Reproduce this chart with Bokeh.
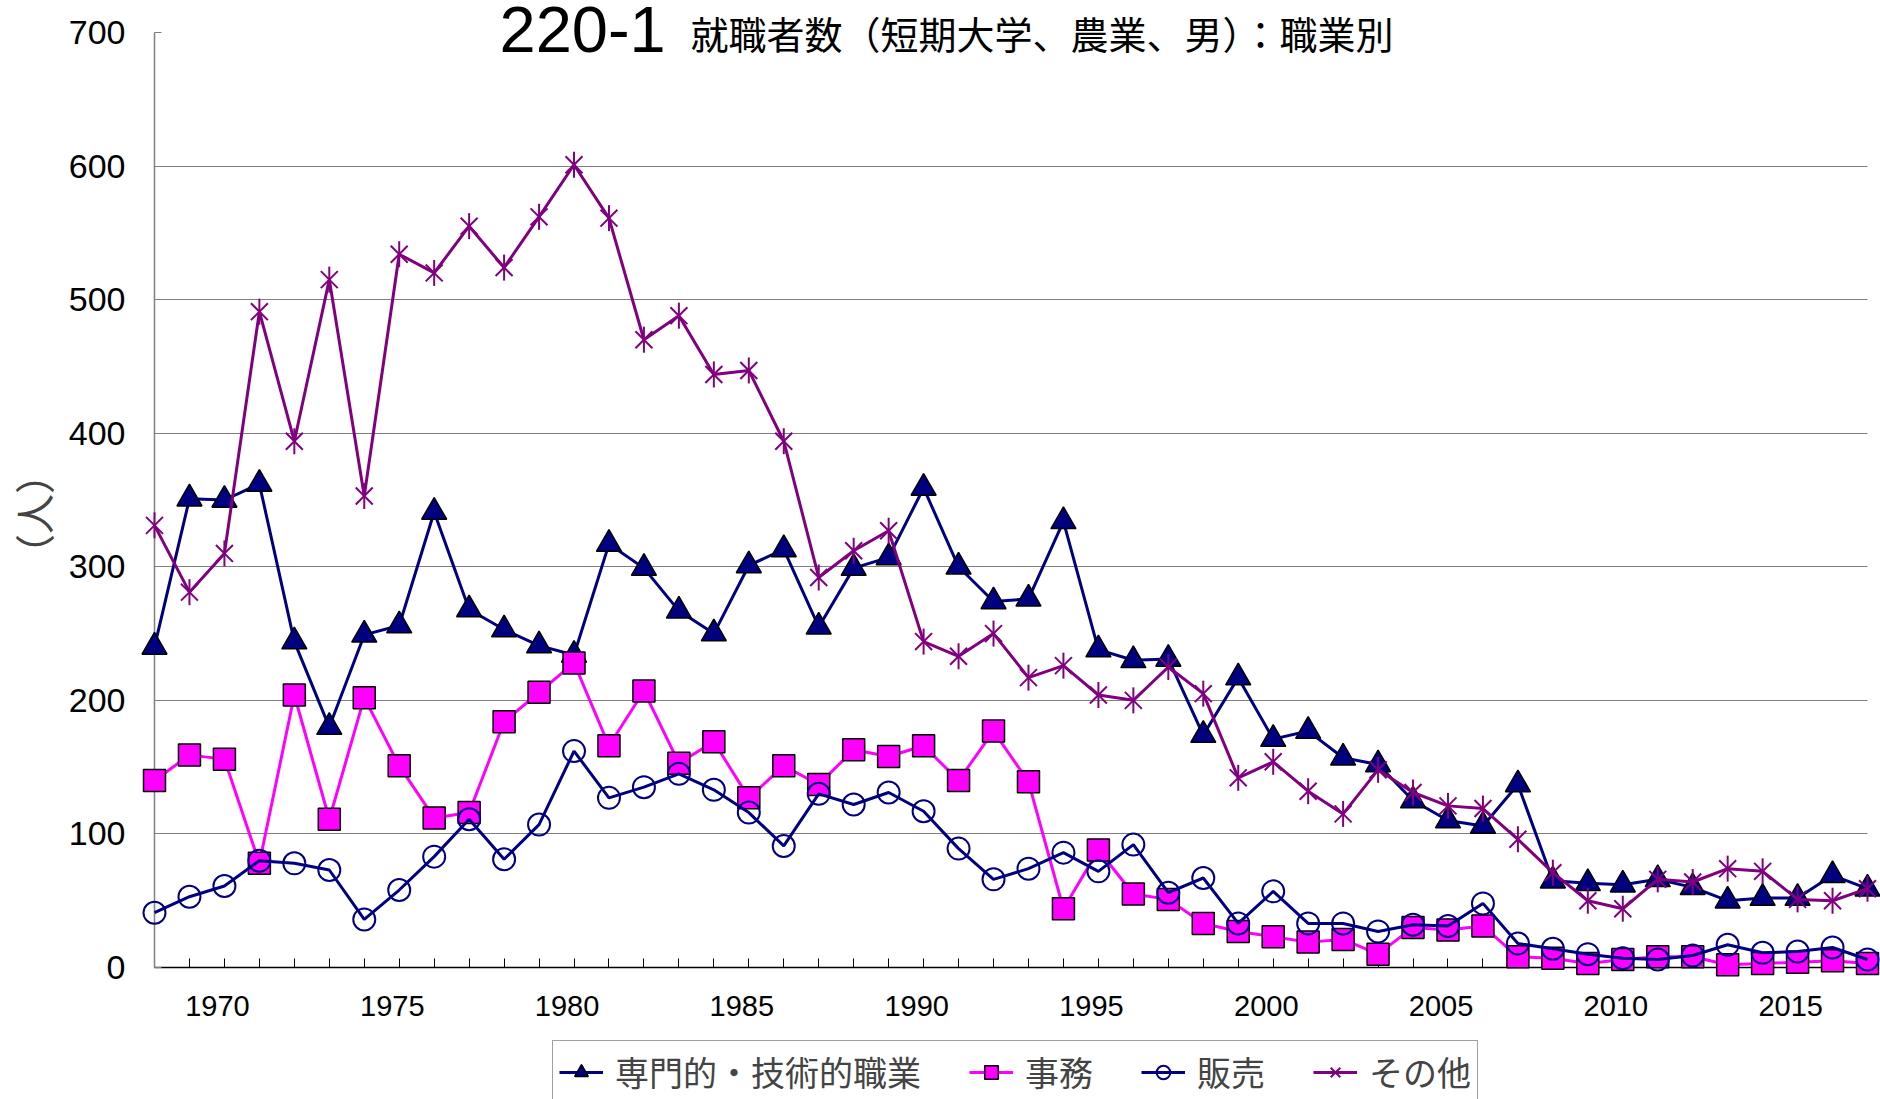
from bokeh.plotting import figure
from bokeh.models import (FixedTicker, CustomJSTickFormatter, Legend, LegendItem,
                          Label, Range1d)
from bokeh.layouts import column
from bokeh.embed import file_html
from bokeh.resources import INLINE
import math

# ---------------- data ----------------
years = list(range(1968, 2018))
senmon = [240, 351, 350, 362, 244, 180, 249, 256, 341, 268, 253, 241, 234,
          317, 299, 267, 250, 301, 313, 255, 299, 307, 359, 300, 274,
          276, 334, 238, 230, 231, 174, 217, 171, 177, 157, 152, 125,
          110, 106, 137, 65, 63, 62, 66, 60, 50, 52, 52, 69, 59]
jimu = [140, 159, 156, 78, 204, 111, 202, 151, 112, 116, 184, 206, 228,
        166, 207, 153, 169, 127, 151, 137, 163, 158, 166, 140, 177,
        139, 44, 88, 55, 51, 33, 27, 23, 19, 21, 10, 30,
        28, 31, 8, 7, 3, 6, 8, 8, 2, 3, 4, 5, 3]
hanbai = [41, 53, 61, 80, 78, 73, 36, 58, 83, 111, 81, 107, 162,
          127, 135, 145, 133, 116, 91, 130, 122, 131, 117, 89, 66,
          74, 86, 72, 92, 56, 67, 33, 57, 33, 33, 27, 32,
          31, 48, 18, 14, 10, 7, 6, 9, 17, 11, 12, 15, 6]
sonota = [331, 281, 310, 491, 394, 515, 353, 534, 520, 555, 524, 562, 601,
          561, 470, 488, 444, 447, 394, 292, 312, 327, 244, 233, 250,
          217, 226, 204, 200, 225, 205, 142, 154, 132, 115, 148, 131,
          121, 119, 96, 71, 50, 44, 66, 64, 74, 72, 51, 50, 59]
series_names = ["専門的・技術的職業", "事務", "販売", "その他"]
y_ticks = [0, 100, 200, 300, 400, 500, 600, 700]
grid_values = [100, 200, 300, 400, 500, 600]
y_max = 700
label_every = 5
title_main = "220-1"
title_sub = "就職者数（短期大学、農業、男）：職業別"
y_label = "（人）"

LATIN = "Liberation Sans"
CJK = "Noto Sans CJK JP"
NAVY = "#000080"
MAGENTA = "#FF00FF"
PURPLE = "#800080"
W = 1880
H_MAIN = 1027
H_LEG = 1099 - H_MAIN
FRAME_BOTTOM = 967      # pixel row of the value 0
AXIS_TOP = 32           # pixel row of the value 700

# the frame reaches the top of the canvas so the title is drawn inside it;
# the axis itself is bounded to 0..700
y_end = y_max * FRAME_BOTTOM / (FRAME_BOTTOM - AXIS_TOP)

p = figure(width=W, height=H_MAIN,
           x_range=Range1d(years[0], years[-1]), y_range=Range1d(0, y_end),
           output_backend="svg", toolbar_location=None,
           min_border_left=150, min_border_right=13,
           min_border_top=0, min_border_bottom=H_MAIN - FRAME_BOTTOM)
p.outline_line_color = None
p.background_fill_color = "white"
p.border_fill_color = "white"

# x axis: a tick at every year, a label every 5 years
xa = p.xaxis[0]
xa.ticker = FixedTicker(ticks=years, minor_ticks=[])
xa.formatter = CustomJSTickFormatter(
    args=dict(step=label_every),
    code="const t = Math.round(tick); return (t % step == 0) ? String(t) + '\\u00a0\\u2009' : '';")
xa.major_tick_in = 9
xa.major_tick_out = 0
xa.minor_tick_line_color = None
xa.axis_line_color = "black"
xa.axis_line_width = 1.5
xa.major_tick_line_color = "black"
xa.major_label_text_font = LATIN
xa.major_label_text_font_size = "29px"
xa.major_label_text_color = "black"
xa.major_label_standoff = 22

# y axis
ya = p.yaxis[0]
ya.bounds = (0, y_max)
ya.ticker = FixedTicker(ticks=y_ticks, minor_ticks=[])
ya.major_tick_in = 7
ya.major_tick_out = 0
ya.minor_tick_line_color = None
ya.axis_line_color = "#808080"
ya.axis_line_width = 1.5
ya.major_tick_line_color = "#808080"
ya.major_label_text_font = LATIN
ya.major_label_text_font_size = "34px"
ya.major_label_text_color = "black"
ya.major_label_standoff = 29
# trailing ideographic spaces centre the label on the 0..700 axis rather than the taller frame
ya.axis_label = y_label + "\u3000\u3000"
ya.axis_label_text_font = CJK
ya.axis_label_text_font_size = "40px"
ya.axis_label_text_font_style = "normal"
ya.axis_label_standoff = 4

p.xgrid.visible = False
p.ygrid.ticker = FixedTicker(ticks=grid_values, minor_ticks=[])
p.ygrid.grid_line_color = "#000000"
p.ygrid.grid_line_width = 1.2
p.ygrid.grid_line_dash = "1 1"

# styles of the four series
line_styles = [dict(line_color=NAVY), dict(line_color=MAGENTA),
               dict(line_color=NAVY), dict(line_color=PURPLE)]
marker_styles = [
    [dict(marker="triangle", size=25, fill_color=NAVY, line_color="black", line_width=1.5)],
    [dict(marker="square", size=22, fill_color=MAGENTA, line_color="black", line_width=1.5)],
    [dict(marker="circle", size=22, fill_color=None, line_color=NAVY, line_width=2)],
    [dict(marker="x", size=24, line_color=PURPLE, line_width=2),
     dict(marker="dash", size=26, angle=math.pi / 2, line_color=PURPLE, line_width=2)],
]
series_values = [senmon, jimu, hanbai, sonota]

for vals, ls, mss in zip(series_values, line_styles, marker_styles):
    p.line(years, vals, line_width=3, level="overlay", **ls)
    for ms in mss:
        p.scatter(years, vals, level="overlay", **ms)

# title, drawn over the top of the plot area as in the original
p.add_layout(Label(x=345, y=FRAME_BOTTOM - 29, x_units="screen", y_units="screen",
                   text=title_main, text_font=LATIN,
                   text_font_size="65px", text_baseline="middle",
                   text_align="left", text_color="black"))
p.add_layout(Label(x=536, y=FRAME_BOTTOM - 32, x_units="screen", y_units="screen",
                   text=title_sub, text_font=CJK,
                   text_font_size="38px", text_baseline="middle",
                   text_align="left", text_color="black"))

# ---- legend strip below the chart ----
p2 = figure(width=W, height=H_LEG, x_range=Range1d(0, 1), y_range=Range1d(0, 1),
            x_axis_type=None, y_axis_type=None,
            output_backend="svg", toolbar_location=None,
            min_border_left=0, min_border_right=0, min_border_top=0, min_border_bottom=0)
p2.outline_line_color = None
p2.xgrid.visible = False
p2.ygrid.visible = False
p2.background_fill_color = "white"
p2.border_fill_color = "white"

# same series in the legend strip (they fall outside its ranges; only the key shows)
items = []
for name, vals, ls, mss in zip(series_names, series_values, line_styles, marker_styles):
    rs = [p2.line(years, vals, line_width=3, **ls)]
    for ms in mss:
        rs.append(p2.scatter(years, vals, **ms))
    items.append(LegendItem(label=name, renderers=rs))

legend = Legend(items=items, orientation="horizontal", location=(398, -4),
                label_text_font=CJK, label_text_font_size="34px",
                glyph_width=44, glyph_height=34, label_standoff=12,
                spacing=48, padding=6, margin=0,
                border_line_color="#444444", border_line_width=1,
                background_fill_color="white", background_fill_alpha=1)
p2.add_layout(legend)

open("out.html", "w").write(file_html(column(p, p2), INLINE))
